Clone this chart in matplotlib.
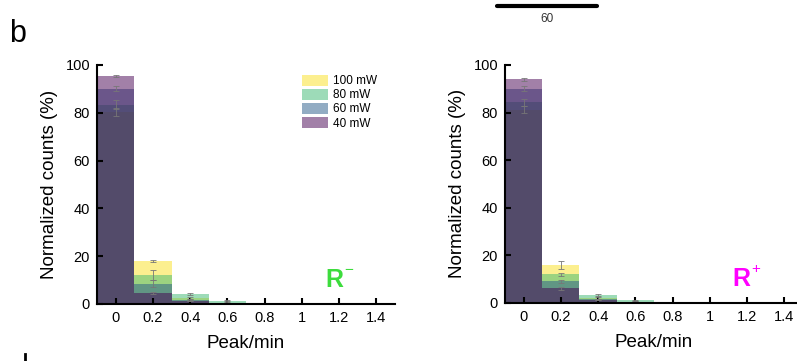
import matplotlib
matplotlib.use('Agg')
import matplotlib.pyplot as plt

plt.rcParams['font.family'] = ['Liberation Sans', 'DejaVu Sans']

# histogram bins (peak/min)
bins = [0, 0.2, 0.4, 0.6, 0.8, 1.0, 1.2, 1.4]
tick_labels = ['0', '0.2', '0.4', '0.6', '0.8', '1', '1.2', '1.4']
powers = ['100 mW', '80 mW', '60 mW', '40 mW']
colors = ['#fbe020', '#3db973', '#275b89', '#460252']

# R- panel, normalized counts (%) and errors
rm_100 = [80.3, 18.0, 2.6, 0.6, 0, 0, 0, 0]
rm_80 = [83.4, 12.2, 4.0, 1.4, 0, 0, 0, 0]
rm_60 = [90.1, 8.4, 1.7, 0.4, 0, 0, 0, 0]
rm_40 = [95.3, 4.6, 1.3, 0.3, 0, 0, 0, 0]
rm_100_err = [1.5, 0.5, 0.4, 0.2, 0, 0, 0, 0]
rm_80_err = [2.0, 2.0, 0.4, 0.2, 0, 0, 0, 0]
rm_60_err = [1.0, 1.5, 0.3, 0.1, 0, 0, 0, 0]
rm_40_err = [0.5, 0.4, 0.2, 0.1, 0, 0, 0, 0]

# R+ panel
rp_100 = [81.2, 16.0, 2.0, 0.5, 0, 0, 0, 0]
rp_80 = [84.3, 12.0, 3.3, 1.2, 0, 0, 0, 0]
rp_60 = [90.0, 9.0, 1.5, 0.4, 0, 0, 0, 0]
rp_40 = [94.0, 6.2, 1.3, 0.3, 0, 0, 0, 0]
rp_100_err = [1.5, 1.8, 0.3, 0.1, 0, 0, 0, 0]
rp_80_err = [1.5, 0.6, 0.4, 0.2, 0, 0, 0, 0]
rp_60_err = [1.0, 0.6, 0.3, 0.1, 0, 0, 0, 0]
rp_40_err = [0.6, 0.6, 0.2, 0.1, 0, 0, 0, 0]


def draw_panel(ax, series, errors, legend=False):
    # overlapping translucent bars, one layer per laser power
    for vals, err, color, label in zip(series, errors, colors, powers):
        ax.bar(bins, vals, width=0.2, color=color, alpha=0.5, linewidth=0, label=label)
        ax.errorbar(bins, vals, yerr=err, fmt='none', ecolor='#777777',
                    elinewidth=0.6, capsize=2, capthick=0.6)
    ax.set_xlim(-0.1, 1.5)
    ax.set_ylim(0, 100)
    ax.set_xticks(bins)
    ax.set_xticklabels(tick_labels)
    ax.set_yticks([0, 20, 40, 60, 80, 100])
    ax.spines['top'].set_visible(False)
    ax.spines['right'].set_visible(False)
    ax.spines['left'].set_linewidth(1.5)
    ax.spines['bottom'].set_linewidth(1.5)
    ax.tick_params(direction='in', length=4, width=1.5, labelsize=10.5, pad=5)
    ax.set_xlabel('Peak/min', fontsize=13.5, labelpad=7)
    ax.set_ylabel('Normalized counts (%)', fontsize=13.5, labelpad=5)
    if legend:
        ax.legend(loc='upper left', bbox_to_anchor=(0.688, 0.96), frameon=False,
                  fontsize=8.5, handlelength=2.2, handleheight=1.15,
                  labelspacing=0.1, borderpad=0, borderaxespad=0, handletextpad=0.4)


fig = plt.figure(figsize=(7.97, 3.61), dpi=100)
ax1 = fig.add_axes([0.1217, 0.158, 0.374, 0.662])
ax2 = fig.add_axes([0.6336, 0.161, 0.374, 0.659])

draw_panel(ax1, [rm_100, rm_80, rm_60, rm_40],
           [rm_100_err, rm_80_err, rm_60_err, rm_40_err], legend=True)
draw_panel(ax2, [rp_100, rp_80, rp_60, rp_40],
           [rp_100_err, rp_80_err, rp_60_err, rp_40_err])

# panel tags
ax1.text(0.765, 0.07, 'R', transform=ax1.transAxes, color='#3ddc3d',
         fontsize=18, fontweight='bold')
ax1.text(0.828, 0.125, '\u2212', transform=ax1.transAxes, color='#3ddc3d', fontsize=11)
ax2.text(0.762, 0.07, 'R', transform=ax2.transAxes, color='#ff00ff',
         fontsize=18, fontweight='bold')
ax2.text(0.826, 0.125, '+', transform=ax2.transAxes, color='#ff00ff', fontsize=11)

# figure label and scale bar
fig.text(0.012, 0.885, 'b', fontsize=22)
fig.add_artist(plt.Line2D([497 / 797, 597 / 797], [0.983, 0.983], color='black', lw=3,
                          solid_capstyle='round'))
fig.text(547 / 797, 0.963, '60', fontsize=8.5, ha='center', va='top', color='#333333')
# top of the next panel letter peeking in at the bottom edge
fig.add_artist(plt.Line2D([25 / 797, 25 / 797], [0.0, 0.02], color='black', lw=2))

fig.savefig('out.png', dpi=100)
